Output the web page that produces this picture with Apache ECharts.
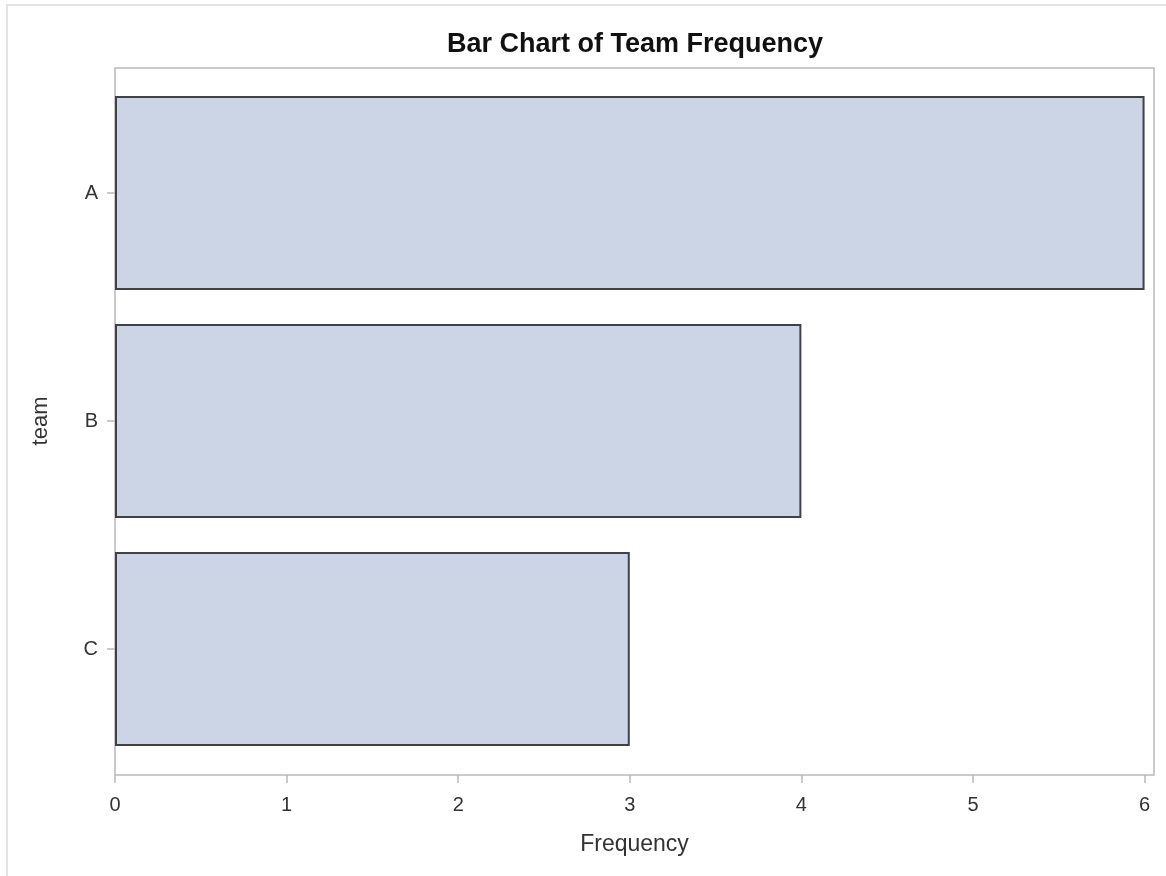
<!DOCTYPE html>
<html>
<head>
<meta charset="utf-8">
<script src="https://cdn.jsdelivr.net/npm/echarts@6/dist/echarts.min.js"></script>
<style>
html,body{margin:0;padding:0;background:#fff;}
#chart{width:1166px;height:876px;}
</style>
</head>
<body>
<div id="chart"></div>
<script>
const titleText = 'Bar Chart of Team Frequency';
const teams = ['A', 'B', 'C'];
const frequency = [6, 4, 3];
const xTicks = [0, 1, 2, 3, 4, 5, 6];
const xName = 'Frequency';
const yName = 'team';

const chart = echarts.init(document.getElementById('chart'), null, {renderer: 'canvas'});
const font = '"Liberation Sans", Arial, sans-serif';
const option = {
  backgroundColor: '#fff',
  animation: false,
  title: {
    text: titleText,
    left: 630, top: 26, textAlign: 'center',
    textStyle: {fontFamily: font, fontWeight: 'bold', fontSize: 27, color: '#111'}
  },
  graphic: [{
    type: 'rect', silent: true, z: -10,
    shape: {x: 7, y: 5, width: 1170, height: 880},
    style: {fill: 'none', stroke: '#e2e2e8', lineWidth: 2}
  }],
  grid: [
    {left: 115, right: 12, top: 79, bottom: 113, containLabel: false},
    {left: 115, right: 12, top: 68, bottom: 101, show: true, borderColor: '#b9b9b9', borderWidth: 1.5, backgroundColor: 'transparent', z: 0}
  ],
  xAxis: [
    {
      type: 'value', gridIndex: 0, min: 0, max: 6.055, interval: 1,
      offset: 12,
      name: xName, nameLocation: 'middle', nameGap: 58,
      nameTextStyle: {fontFamily: font, fontSize: 23, color: '#333'},
      axisLine: {show: false},
      axisTick: {show: true, length: 8, lineStyle: {color: '#b9b9b9', width: 1.5}},
      splitLine: {show: false},
      axisLabel: {
        fontFamily: font, fontSize: 20, color: '#333', margin: 20,
        showMaxLabel: false,
        formatter: v => (xTicks.indexOf(v) >= 0 ? String(v) : '')
      }
    },
    {type: 'value', gridIndex: 1, show: false, min: 0, max: 1}
  ],
  yAxis: [
    {
      type: 'category', gridIndex: 0, data: teams, inverse: true,
      name: yName, nameLocation: 'middle', nameGap: 63, nameRotate: 90,
      nameTextStyle: {fontFamily: font, fontSize: 22, color: '#333'},
      axisLine: {show: false},
      axisTick: {show: true, alignWithLabel: true, length: 8, lineStyle: {color: '#b9b9b9', width: 1.5}},
      axisLabel: {fontFamily: font, fontSize: 20, color: '#333', margin: 17},
      splitLine: {show: false}
    },
    {type: 'value', gridIndex: 1, show: false, min: 0, max: 1}
  ],
  series: [{
    type: 'bar',
    xAxisIndex: 0, yAxisIndex: 0,
    data: frequency,
    barCategoryGap: '15%',
    itemStyle: {color: '#cbd5e5', borderColor: '#3f4146', borderWidth: 2},
    z: 3
  }]
};
chart.setOption(option);
</script>
</body>
</html>
